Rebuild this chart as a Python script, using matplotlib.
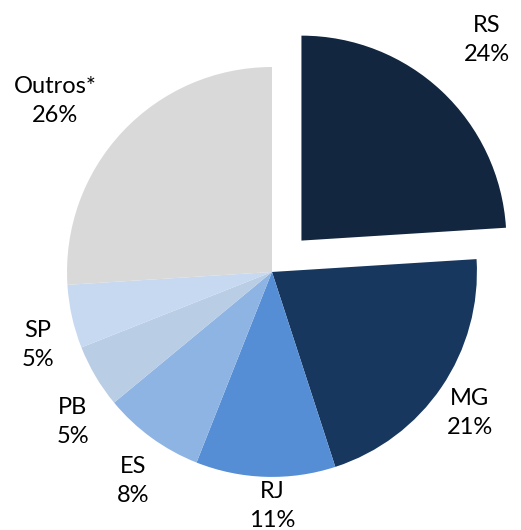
import matplotlib
matplotlib.use("Agg")
import matplotlib.pyplot as plt

labels = ["RS", "MG", "RJ", "ES", "PB", "SP", "Outros*"]
values = [24, 21, 11, 8, 5, 5, 26]
colors = ["#12263F", "#17375E", "#558ED5", "#8EB4E3", "#B9CDE5", "#C6D9F1", "#D9D9D9"]
explode = [0.21, 0, 0, 0, 0, 0, 0]
# label positions (data units, pie radius = 1)
label_pos = [(1.049, 1.132), (0.966, -0.688), (0.0, -1.141), (-0.678, -1.02),
             (-0.971, -0.732), (-1.141, -0.356), (-1.059, 0.834)]

fig = plt.figure(figsize=(5.21, 5.30), dpi=100)
ax = fig.add_axes([0, 0, 1, 1])
ax.pie(values, colors=colors, explode=explode, startangle=90, counterclock=False,
       radius=1.0, wedgeprops=dict(linewidth=0))
ax.set_xlim(-1.327, 1.215)
ax.set_ylim(-1.259, 1.327)
ax.set_aspect('auto')
ax.axis('off')

for lab, v, (x, y) in zip(labels, values, label_pos):
    ax.text(x, y, f"{lab}\n{v}%", ha='center', va='center', fontsize=17,
            family='Lato', linespacing=1.45, color='#000000')

fig.savefig("out.png", dpi=100)
